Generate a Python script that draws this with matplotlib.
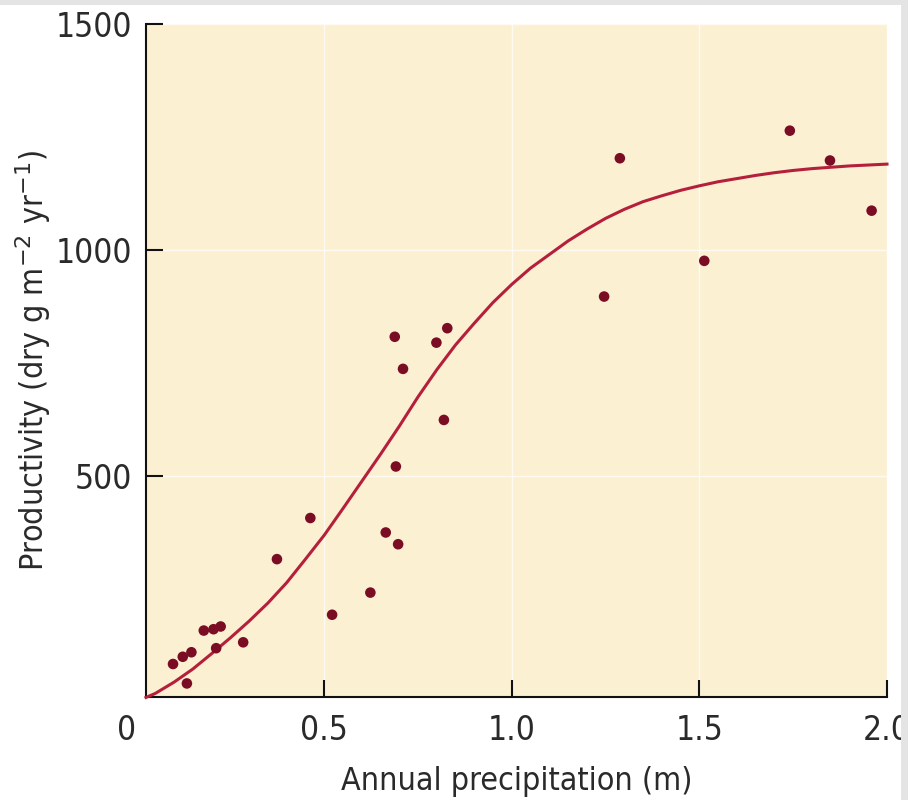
import matplotlib
matplotlib.use("Agg")
import matplotlib.pyplot as plt
from matplotlib import font_manager as fm
import matplotlib.transforms as mtransforms
from matplotlib.patches import Rectangle

# Observed data points (precipitation in m, productivity in dry g m-2 yr-1)
precip = [0.097, 0.123, 0.146, 0.134, 0.179, 0.205, 0.224, 0.212, 0.284,
          0.374, 0.463, 0.521, 0.623, 0.664, 0.697, 0.691, 0.688, 0.710,
          0.799, 0.828, 0.819, 1.246, 1.288, 1.513, 1.741, 1.848, 1.959]
productivity = [84, 100, 110, 41, 158, 161, 167, 119, 132,
                316, 407, 193, 242, 375, 349, 521, 808, 737,
                795, 827, 624, 897, 1203, 976, 1264, 1198, 1087]

# Fitted curve
curve_x = [0.025, 0.05, 0.1, 0.15, 0.2, 0.25, 0.3, 0.35, 0.4, 0.45, 0.5,
           0.55, 0.6, 0.65, 0.7, 0.75, 0.8, 0.85, 0.9, 0.95, 1.0,
           1.05, 1.1, 1.15, 1.2, 1.25, 1.3, 1.35, 1.4, 1.45, 1.5,
           1.55, 1.6, 1.65, 1.7, 1.75, 1.8, 1.85, 1.9, 1.95, 2.0]
curve_y = [10, 19, 44, 73, 107, 142, 179, 219, 264, 316, 369,
           428, 488, 548, 610, 675, 735, 790, 838, 884, 924,
           960, 990, 1020, 1046, 1070, 1090, 1107, 1120, 1132, 1142,
           1151, 1158, 1165, 1171, 1176, 1180, 1183, 1186, 1188, 1190]

xticks = [0.5, 1.0, 1.5, 2.0]
xtick_labels = ["0.5", "1.0", "1.5", "2.0"]
yticks = [500, 1000, 1500]
ytick_labels = ["500", "1000", "1500"]

# pick a condensed face if one is installed
fprops = None
for f in fm.fontManager.ttflist:
    n = f.name
    if n in ("Liberation Sans Narrow", "Roboto Condensed", "Open Sans Condensed",
             "DejaVu Sans Condensed") or (n == "DejaVu Sans" and str(f.stretch) in ("condensed", "semi-condensed", "600", "700") and f.weight in (400, "normal")):
        if "Bold" in f.fname or "Oblique" in f.fname or "Italic" in f.fname:
            continue
        fprops = fm.FontProperties(fname=f.fname)
        break
if fprops is None:
    fprops = fm.FontProperties(family="Roboto")

def fp(size):
    p = fprops.copy()
    p.set_size(size)
    return p

fig = plt.figure(figsize=(9.08, 8.0), dpi=100)
fig.patch.set_facecolor("white")
fig.patches.append(Rectangle((0, 1 - 5 / 800), 1, 5 / 800, transform=fig.transFigure,
                             facecolor="#e4e4e4", edgecolor="none", zorder=0))
fig.patches.append(Rectangle((1 - 7 / 908, 0), 7 / 908, 1, transform=fig.transFigure,
                             facecolor="#e4e4e4", edgecolor="none", zorder=0))

ax = fig.add_axes([146 / 908, 1 - 697 / 800, (887 - 146) / 908, (697 - 24) / 800])
ax.set_facecolor("#fcf0d3")
ax.set_xlim(0.025, 2.0)
ax.set_ylim(11, 1500)

ax.grid(True, color="white", linewidth=1.0, alpha=0.7)
ax.set_axisbelow(True)

ax.plot(curve_x, curve_y, color="#b4203c", linewidth=2.2, zorder=3,
        solid_joinstyle="round", clip_on=False)
ax.scatter(precip, productivity, s=58, color="#7a0c24", edgecolors="none", zorder=4)

for s in ["top", "right"]:
    ax.spines[s].set_visible(False)
for s in ["left", "bottom"]:
    ax.spines[s].set_linewidth(1.5)
    ax.spines[s].set_color("#111111")

ax.set_xticks(xticks)
ax.set_xticklabels(xtick_labels, fontproperties=fp(24))
ax.set_yticks(yticks)
ax.set_yticklabels(ytick_labels, fontproperties=fp(24))
ax.tick_params(direction="in", length=12, width=1.5, colors="#111111",
               labelcolor="#2a2a2a")
ax.tick_params(axis="x", pad=12)
ax.tick_params(axis="y", pad=10)

trans = mtransforms.blended_transform_factory(ax.transData, ax.transAxes)
t0 = ax.text(0.0, 0, "0", ha="right", va="top", color="#2a2a2a", fontproperties=fp(24))
t0.set_transform(trans + mtransforms.ScaledTranslation(0, -12 / 72, fig.dpi_scale_trans))

ax.set_xlabel("Annual precipitation (m)", color="#2a2a2a", fontproperties=fp(23))
ax.xaxis.set_label_coords(0.5, -0.103)
ax.xaxis.label.set_va("top")
ax.set_ylabel("Productivity (dry g m$^{-2}$ yr$^{-1}$)", color="#2a2a2a",
              fontproperties=fp(23))
ax.yaxis.set_label_coords(-0.125, 0.5)

fig.savefig("out.png", dpi=100, facecolor=fig.get_facecolor())
